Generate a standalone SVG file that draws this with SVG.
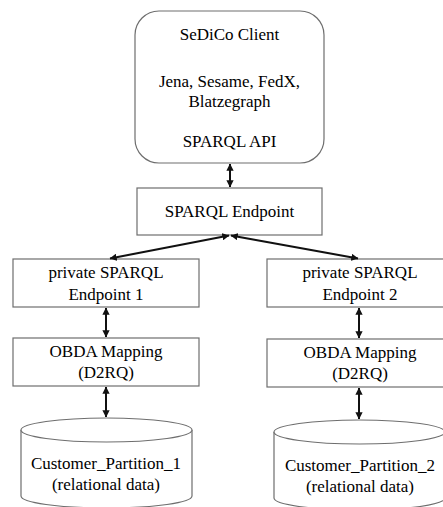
<svg xmlns="http://www.w3.org/2000/svg" width="443" height="507" viewBox="0 0 443 507">
  <style>
    .box { fill: #ffffff; stroke: #6e6e6e; stroke-width: 1.2; }
    text { font-size: 17px; fill: #000000; text-anchor: middle; }
    .link { stroke: #111111; stroke-width: 2; fill: none; marker-start: url(#head); marker-end: url(#head); }
  </style>
  <defs>
    <marker id="head" viewBox="0 0 8 8" refX="7.5" refY="4" markerWidth="3.6" markerHeight="3.6" orient="auto-start-reverse" markerUnits="strokeWidth">
      <path d="M0,0 L8,4 L0,8 z" fill="#111111"/>
    </marker>
  </defs>
  <rect width="443" height="507" fill="#ffffff"/>

  <g font-family="Liberation Serif, serif">
    <!-- client application -->
    <g id="client">
      <rect class="box" x="135" y="11" width="189" height="152" rx="24" ry="24"/>
      <text x="229.5" y="40">SeDiCo Client</text>
      <text x="229.5" y="87">Jena, Sesame, FedX,</text>
      <text x="229.5" y="107">Blatzegraph</text>
      <text x="229.5" y="147">SPARQL API</text>
    </g>

    <!-- federating endpoint -->
    <g id="sparql-endpoint">
      <rect class="box" x="137" y="188" width="185" height="47"/>
      <text x="229.5" y="217">SPARQL Endpoint</text>
    </g>

    <!-- partition 1 stack -->
    <g id="private-endpoint-1">
      <rect class="box" x="13" y="259" width="186" height="48"/>
      <text x="106" y="278">private SPARQL</text>
      <text x="106" y="300">Endpoint 1</text>
    </g>
    <g id="obda-mapping-1">
      <rect class="box" x="13" y="338" width="186" height="48"/>
      <text x="106" y="357">OBDA Mapping</text>
      <text x="106" y="378">(D2RQ)</text>
    </g>
    <g id="partition-1">
      <path class="box" d="M21,430 L21,496 A85.5,12 0 0 0 192,496 L192,430"/>
      <ellipse class="box" cx="106.5" cy="430" rx="85.5" ry="12"/>
      <text x="106" y="469">Customer_Partition_1</text>
      <text x="106" y="490">(relational data)</text>
    </g>

    <!-- partition 2 stack -->
    <g id="private-endpoint-2">
      <rect class="box" x="267" y="259" width="186" height="48"/>
      <text x="360" y="278">private SPARQL</text>
      <text x="360" y="300">Endpoint 2</text>
    </g>
    <g id="obda-mapping-2">
      <rect class="box" x="267" y="339" width="186" height="48"/>
      <text x="360" y="358">OBDA Mapping</text>
      <text x="360" y="379">(D2RQ)</text>
    </g>
    <g id="partition-2">
      <path class="box" d="M274,432 L274,498 A85.5,12 0 0 0 445,498 L445,432"/>
      <ellipse class="box" cx="359.5" cy="432" rx="85.5" ry="12"/>
      <text x="360" y="471">Customer_Partition_2</text>
      <text x="360" y="492">(relational data)</text>
    </g>
  </g>

  <!-- bidirectional links -->
  <g id="connectors">
    <line class="link" x1="230" y1="164" x2="230" y2="187"/>
    <line class="link" x1="229" y1="235.5" x2="110" y2="258.5"/>
    <line class="link" x1="231" y1="235.5" x2="358" y2="258.5"/>
    <line class="link" x1="106" y1="308" x2="106" y2="337"/>
    <line class="link" x1="106" y1="387" x2="106" y2="417"/>
    <line class="link" x1="359" y1="308" x2="359" y2="338"/>
    <line class="link" x1="359" y1="388" x2="359" y2="419"/>
  </g>
</svg>
